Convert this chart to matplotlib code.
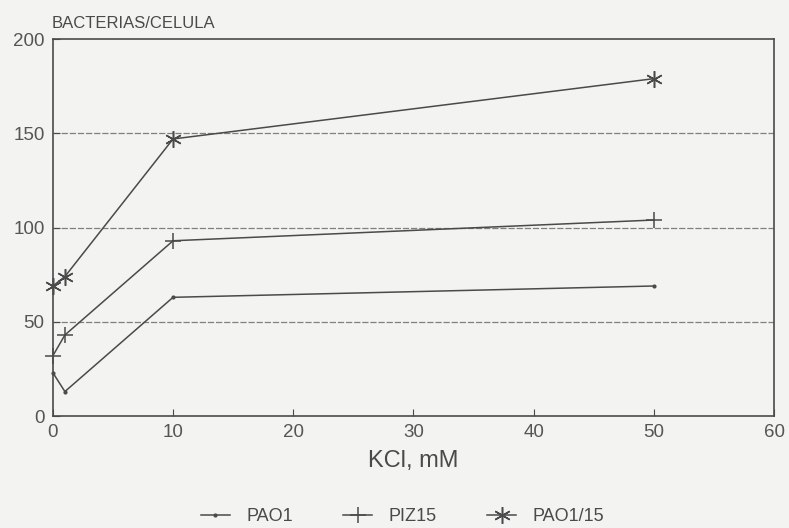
import matplotlib.pyplot as plt

# KCl concentration (mM) and bacteria per cell
kcl = [0, 1, 10, 50]
pao1 = [23, 13, 63, 69]
piz15 = [32, 43, 93, 104]
pao1_15 = [69, 74, 147, 179]

x_ticks = [0, 10, 20, 30, 40, 50, 60]
y_ticks = [0, 50, 100, 150, 200]

plt.rcParams['font.family'] = ['Liberation Sans', 'DejaVu Sans']
ink = '#4a4a4a'
bg = '#f3f3f1'

fig = plt.figure(figsize=(7.89, 5.28), dpi=100, facecolor=bg)
ax = fig.add_axes([0.067, 0.212, 0.914, 0.714], facecolor=bg)

ax.plot(kcl, pao1, color=ink, lw=1.1, marker='.', ms=4, label='PAO1', clip_on=False)
ax.plot(kcl, piz15, color=ink, lw=1.1, marker='+', ms=12, mew=1.1, label='PIZ15', clip_on=False)
ax.plot(kcl, pao1_15, color=ink, lw=1.1, marker=(6, 2, 0), ms=12, mew=1.1, label='PAO1/15',
        clip_on=False)

ax.set_xlim(0, 60)
ax.set_ylim(0, 200)
ax.set_xticks(x_ticks)
ax.set_yticks(y_ticks)
for y in y_ticks[1:-1]:
    ax.axhline(y, color='#808080', lw=0.9, ls=(0, (5, 1.5)), zorder=0)

ax.tick_params(direction='in', length=5, color=ink, labelcolor='#555555', labelsize=13.5, pad=6)
for s in ax.spines.values():
    s.set_color(ink)
    s.set_linewidth(1.2)

ax.set_xlabel('KCl, mM', fontsize=17, color=ink, labelpad=6)
fig.text(0.066, 0.955, 'BACTERIAS/CELULA', fontsize=12, color=ink, va='center')

leg = fig.legend(loc='center', bbox_to_anchor=(0.51, 0.022), ncol=3, frameon=False,
                 fontsize=13, handlelength=1.6, columnspacing=2.8, handletextpad=0.9)
for t in leg.get_texts():
    t.set_color(ink)

fig.savefig('out.png', dpi=100, facecolor=bg)
